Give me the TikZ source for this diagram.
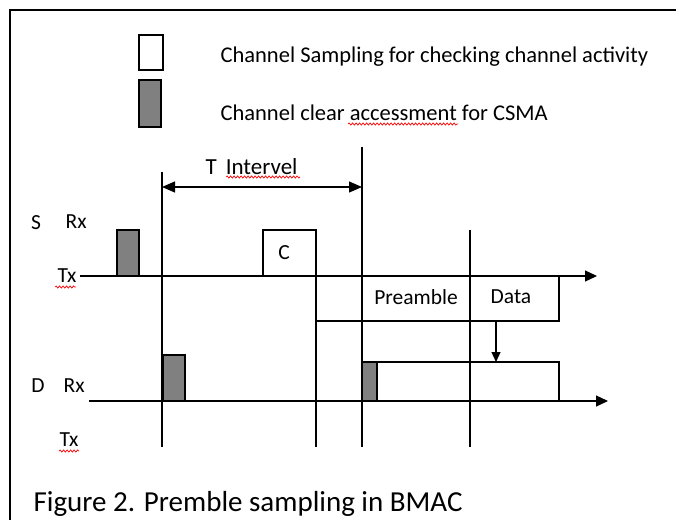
\documentclass[tikz,border=0pt]{standalone}
\usepackage{fontspec}
\setmainfont{Carlito}
\usetikzlibrary{arrows.meta,decorations.pathmorphing}

\tikzset{
    lbl/.style={inner sep=0pt, font=\fontsize{21.5}{24}\selectfont},
    legtext/.style={inner sep=0pt, anchor=west, font=\fontsize{22.5}{26}\selectfont},
    cca/.style={draw=black, fill={rgb,255:red,128;green,128;blue,128}},
    wavy/.style={draw=red, line width=0.7pt, decorate, decoration={snake, amplitude=1.1pt, segment length=3.5pt}},
    timearrow/.style={-{Triangle[length=12pt,width=11pt]}},
}

\begin{document}
\begin{tikzpicture}[x=1pt, y=-1pt, line width=1.2pt]
    \clip (0,0) rectangle (676,519);
    \fill[white] (0,0) rectangle (676,519);
    \draw[line width=1.8pt] (10,540) -- (10,10) -- (700,10);

    % legend
    \draw (139,35) rectangle (163,70);
    \draw[cca] (139,80) rectangle (161,127);
    \node[legtext] (legsample) at (220,57) {Channel Sampling for checking channel activity};
    \node[legtext] (legclear) at (220,113) {Channel clear accessment for CSMA};
    \draw[wavy] (348,124) -- (458,124);

    % time marks
    \coordinate (tA) at (162,187);
    \coordinate (tB) at (362,187);
    \draw (162,172) -- (162,447);
    \draw (362,147) -- (362,447);
    \draw (316,230) -- (316,447);
    \draw (470,230) -- (470,447);
    \draw[{Triangle[length=13pt,width=11pt]}-{Triangle[length=13pt,width=11pt]}] (tA) -- (tB);
    \node[lbl, anchor=west, font=\fontsize{23}{26}\selectfont] (tint) at (205,167) {T\hspace{9pt}Intervel};
    \draw[wavy] (226,177) -- (300,177);

    % sender
    \node[lbl] (sname) at (36,223) {S};
    \node[lbl, anchor=west] (srx) at (65,222) {Rx};
    \node[lbl, anchor=east] (stx) at (77,276) {Tx};
    \draw[wavy] (55,287) -- (76,287);
    \coordinate (sstart) at (80,276);
    \coordinate (send) at (597,276);
    \draw[cca] (117,230) rectangle (139,276);
    \draw (263,230) rectangle (316,276);
    \node[lbl] (chk) at (284,253) {C};
    \draw (316,276) rectangle (559,321);
    \node[lbl] (pre) at (416,297) {Preamble};
    \node[lbl] (dat) at (511,297) {Data};
    \draw[timearrow] (sstart) -- (send);

    % receiver
    \node[lbl] (dname) at (38,386) {D};
    \node[lbl, anchor=west] (drx) at (63,386) {Rx};
    \node[lbl] (dtx) at (69,440) {Tx};
    \draw[wavy] (59,451) -- (79,451);
    \coordinate (dstart) at (89,401);
    \coordinate (dend) at (608,401);
    \draw[cca] (163,355) rectangle (185,401);
    \draw[cca] (362,362) rectangle (377,401);
    \draw (377,362) rectangle (559,401);
    \draw[timearrow] (dstart) -- (dend);

    \coordinate (dataout) at (496,321);
    \coordinate (datain) at (496,362);
    \draw[-{Triangle[length=10pt,width=9pt]}] (dataout) -- (datain);

    \node[inner sep=0pt, anchor=base west, font=\fontsize{29}{34}\selectfont] (caption) at (33,511) {Figure 2. Premble sampling in BMAC};
\end{tikzpicture}
\end{document}
